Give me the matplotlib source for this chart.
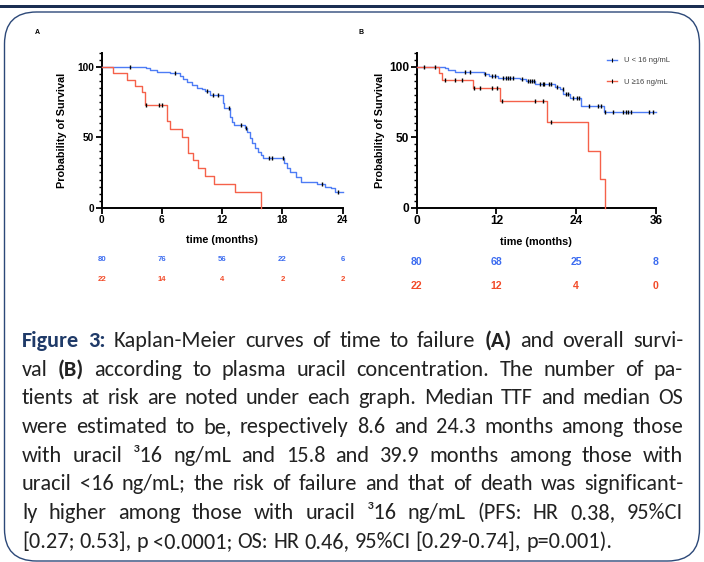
import matplotlib
matplotlib.use("Agg")
import matplotlib.pyplot as plt
import numpy as np
from matplotlib import font_manager
from matplotlib.lines import Line2D
from matplotlib.patches import FancyBboxPatch, Rectangle
from matplotlib.ticker import MultipleLocator

plt.rcParams["font.family"] = ["Liberation Sans", "DejaVu Sans"]

BLUE = "#4d7cf5"
RED = "#f5614a"
BLUE_TXT = "#3c6cf0"
RED_TXT = "#f24a28"
NAVY = "#1f3a68"

# --- panel A: time to failure (step times, survival %) ---
a_low_t = [0, 4.4, 4.8, 5.5, 6.8, 7.8, 8.1, 8.45, 8.95, 9.45, 9.95, 10.3, 10.8, 12.05, 12.2,
           12.75, 13.0, 13.2, 14.3, 14.5, 14.8, 15.0, 15.3, 15.6, 15.9, 16.1, 18.2, 18.45,
           18.8, 19.3, 19.8, 21.4, 22.2, 22.8, 23.2]
a_low_s = [100, 98.8, 97.5, 96.3, 95.3, 93.2, 91.3, 89.5, 87.1, 85.3, 84.0, 82.8, 80.3, 74.6, 70.5,
           64.5, 61.0, 58.7, 56.3, 53.9, 49.2, 45.7, 42.1, 39.7, 37.4, 35.5, 31.5, 28.4,
           25.5, 22.0, 18.4, 16.6, 14.9, 13.7, 11.3]
a_low_end = 24
a_low_cens = [2.8, 7.3, 10.46, 11.1, 11.6, 12.7, 13.9, 14.4, 16.7, 17.0, 18.1, 21.9, 23.5]

a_high_t = [0, 1.1, 2.55, 3.3, 4.0, 4.3, 6.55, 6.8, 7.97, 8.63, 9.1, 9.6, 10.3, 11.2, 13.3, 15.87]
a_high_s = [100, 95.5, 90.9, 86.4, 81.8, 72.7, 61.5, 55.9, 50.3, 39.1, 33.5, 28.0, 22.4, 16.8, 11.2, 0]
a_high_end = 15.87
a_high_cens = [4.41, 5.74, 6.0]

a_ticks = [0, 6, 12, 18, 24]
a_risk_low = [80, 76, 56, 22, 6]
a_risk_high = [22, 14, 4, 2, 2]

# --- panel B: overall survival ---
b_low_t = [0, 4.26, 4.76, 5.76, 10.1, 10.9, 12.2, 15.6, 16.4, 17.8, 20.8, 21.6, 22.05, 23.06, 24.7, 28.2]
b_low_s = [100, 98.8, 97.5, 96.3, 95.0, 93.8, 92.2, 91.3, 90.1, 87.5, 85.8, 84.0, 80.4, 77.6, 72.3, 68.1]
b_low_end = 36
b_low_cens = [1.1, 2.75, 7.27, 8.0, 10.35, 11.3, 11.8, 13.0, 13.4, 13.8, 14.0, 14.5, 15.9, 16.8,
              17.0, 17.3, 17.7, 18.55, 19.05, 19.15, 19.95, 20.2, 21.1, 21.96, 22.5, 22.8, 23.5,
              24.07, 24.46, 25.97, 27.3, 27.8, 28.4, 29.6, 31.1, 31.5, 31.8, 32.3, 35.0, 35.6]

b_high_t = [0, 3.35, 3.76, 8.5, 12.5, 19.65, 25.7, 27.6, 28.3]
b_high_s = [100, 95.5, 90.9, 84.8, 75.9, 60.7, 40.5, 20.2, 0]
b_high_end = 28.3
b_high_cens = [4.26, 5.76, 6.77, 8.6, 9.5, 11.4, 12.1, 12.9, 17.8, 18.95, 20.2]

b_ticks = [0, 12, 24, 36]
b_risk_low = [80, 68, 25, 8]
b_risk_high = [22, 12, 4, 0]

legend_labels = ["U < 16 ng/mL", "U \u226516 ng/mL"]

caption = [
    [("Figure 3:", "fig"), ("Kaplan-Meier curves of time to failure", "n"), ("(A)", "b"),
     ("and overall survi-", "n")],
    [("val", "n"), ("(B)", "b"), ("according to plasma uracil concentration. The number of pa-", "n")],
    [("tients at risk are noted under each graph. Median TTF and median OS", "n")],
    [("were estimated to be, respectively 8.6 and 24.3 months among those", "n")],
    [("with uracil \u00b316 ng/mL and 15.8 and 39.9 months among those with", "n")],
    [("uracil <16 ng/mL; the risk of failure and that of death was significant-", "n")],
    [("ly higher among those with uracil \u00b316 ng/mL (PFS: HR 0.38, 95%CI", "n")],
    [("[0.27; 0.53], p <0.0001; OS: HR 0.46, 95%CI [0.29-0.74], p=0.001).", "n")],
]


def km(ax, t, s, end, cens, color):
    tt = list(t) + [end]
    ss = list(s) + [s[-1]]
    ax.step(tt, ss, where="post", color=color, lw=1.0, clip_on=False, zorder=3)
    idx = np.searchsorted(t, cens, side="right") - 1
    ax.plot(cens, np.array(s)[idx], ls="none", marker="|", ms=3.2, mew=1.0,
            color="black", zorder=4, clip_on=False)


def style_axes(ax, xmax, ticks, labelsize, ypad):
    ax.set_xlim(0, xmax)
    ax.set_ylim(0, 110)
    ax.set_xticks(ticks)
    ax.set_yticks([0, 50, 100])
    ax.yaxis.set_minor_locator(MultipleLocator(5))
    for side in ["top", "right"]:
        ax.spines[side].set_visible(False)
    for side in ["left", "bottom"]:
        ax.spines[side].set_linewidth(1.4)
    ax.tick_params(which="major", length=4, width=1.3, labelsize=labelsize, pad=1.5)
    ax.tick_params(axis="y", which="minor", length=2.5, width=1.0)
    for lbl in ax.get_xticklabels() + ax.get_yticklabels():
        lbl.set_fontweight("bold")
    ax.set_xlabel("time (months)", fontsize=7.8, fontweight="bold", labelpad=7)
    ax.set_ylabel("Probability of Survival", fontsize=7.8, fontweight="bold", labelpad=ypad)
    ax.patch.set_visible(False)


fig = plt.figure(figsize=(7.04, 5.62), dpi=100)

# background frame + caption in pixel coordinates
bg = fig.add_axes([0, 0, 1, 1])
bg.set_xlim(0, 704)
bg.set_ylim(562, 0)
bg.axis("off")
bg.add_patch(Rectangle((0, 4.5), 704, 3.2, color="#1b2f52", lw=0))
bg.add_patch(FancyBboxPatch((4.5, 12), 695, 549, boxstyle="round,pad=0,rounding_size=32",
                            fc="none", ec="#2c4878", lw=1.0))
bg.text(37, 32, "A", fontsize=5, fontweight="bold", ha="center", va="center")
bg.text(361, 32, "B", fontsize=5, fontweight="bold", ha="center", va="center")

# panel A
axA = fig.add_axes([101.7 / 704, 1 - 207.7 / 562, 241 / 704, 155 / 562])
km(axA, a_low_t, a_low_s, a_low_end, a_low_cens, BLUE)
km(axA, a_high_t, a_high_s, a_high_end, a_high_cens, RED)
style_axes(axA, 24, a_ticks, 7.3, 7)
tr = axA.get_xaxis_transform()
for x, n in zip(a_ticks, a_risk_low):
    axA.text(x, -0.337, str(n), transform=tr, color=BLUE_TXT, fontsize=5.6,
             fontweight="bold", ha="center", va="center")
for x, n in zip(a_ticks, a_risk_high):
    axA.text(x, -0.466, str(n), transform=tr, color=RED_TXT, fontsize=5.6,
             fontweight="bold", ha="center", va="center")

# panel B
axB = fig.add_axes([416.7 / 704, 1 - 207.7 / 562, 239.3 / 704, 155 / 562])
km(axB, b_low_t, b_low_s, b_low_end, b_low_cens, BLUE)
km(axB, b_high_t, b_high_s, b_high_end, b_high_cens, RED)
style_axes(axB, 36, b_ticks, 8.6, 3)
tr = axB.get_xaxis_transform()
for x, n in zip(b_ticks, b_risk_low):
    axB.text(x, -0.348, str(n), transform=tr, color=BLUE_TXT, fontsize=7.6,
             fontweight="bold", ha="center", va="center")
for x, n in zip(b_ticks, b_risk_high):
    axB.text(x, -0.505, str(n), transform=tr, color=RED_TXT, fontsize=7.6,
             fontweight="bold", ha="center", va="center")

handles = [Line2D([], [], color=c, lw=1.0, marker="|", ms=3, mew=0.8, mec="black")
           for c in (BLUE, RED)]
axB.legend(handles, legend_labels, loc="upper left", bbox_to_anchor=(607 / 704, 1 - 57 / 562),
           bbox_transform=fig.transFigure, frameon=False, fontsize=5.5, handlelength=1.3,
           handletextpad=0.9, labelspacing=1.85, borderpad=0, borderaxespad=0,
           labelcolor="#444444")

# caption, justified word by word (Carlito ~ Calibri metrics if present)
installed = {f.name for f in font_manager.fontManager.ttflist}
cap_main = next((f for f in ["Carlito", "Lato"] if f in installed), "DejaVu Sans")
cap_font = [cap_main, "DejaVu Sans"]
x_left, x_right = 22, 683
base_y = 347
line_h = 28.7
renderer = fig.canvas.get_renderer()


def make_text(w, kind, size):
    if kind == "fig":
        return bg.text(0, 0, w, fontsize=size, family=cap_font, fontweight="bold", color=NAVY)
    if kind == "b":
        return bg.text(0, 0, w, fontsize=size, family=cap_font, fontweight="bold", color="#222222")
    return bg.text(0, 0, w, fontsize=size, family=cap_font, color="#222222")


def space_width(size):
    p1 = bg.text(0, 0, "a a", fontsize=size, family=cap_font)
    p2 = bg.text(0, 0, "aa", fontsize=size, family=cap_font)
    w = p1.get_window_extent(renderer).width - p2.get_window_extent(renderer).width
    p1.remove()
    p2.remove()
    return w


rows = []
for segs in caption:
    words = []
    for txt, kind in segs:
        for w in txt.split(" "):
            words.append((w, kind))
    rows.append(words)

# size so that the justified lines (all but the last) fit with near-normal spacing
size = 16.0
for attempt in range(3):
    space_w = space_width(size)
    widest = 0
    for words in rows[:-1]:
        tot = 0
        for w, kind in words:
            t = make_text(w, kind, size)
            tot += t.get_window_extent(renderer).width
            t.remove()
        widest = max(widest, tot + 0.9 * space_w * (len(words) - 1))
    if widest <= (x_right - x_left):
        break
    size = size * (x_right - x_left) / widest * 0.995
space_w = space_width(size)

for i, words in enumerate(rows):
    y = base_y + i * line_h
    texts = [make_text(w, kind, size) for w, kind in words]
    widths = [t.get_window_extent(renderer).width for t in texts]
    if i < len(rows) - 1:
        gap = ((x_right - x_left) - sum(widths)) / (len(words) - 1)
    else:
        gap = space_w
    x = x_left
    for t, wd in zip(texts, widths):
        t.set_position((x, y))
        t.set_va("baseline")
        x += wd + gap

fig.savefig("out.png", dpi=100)
